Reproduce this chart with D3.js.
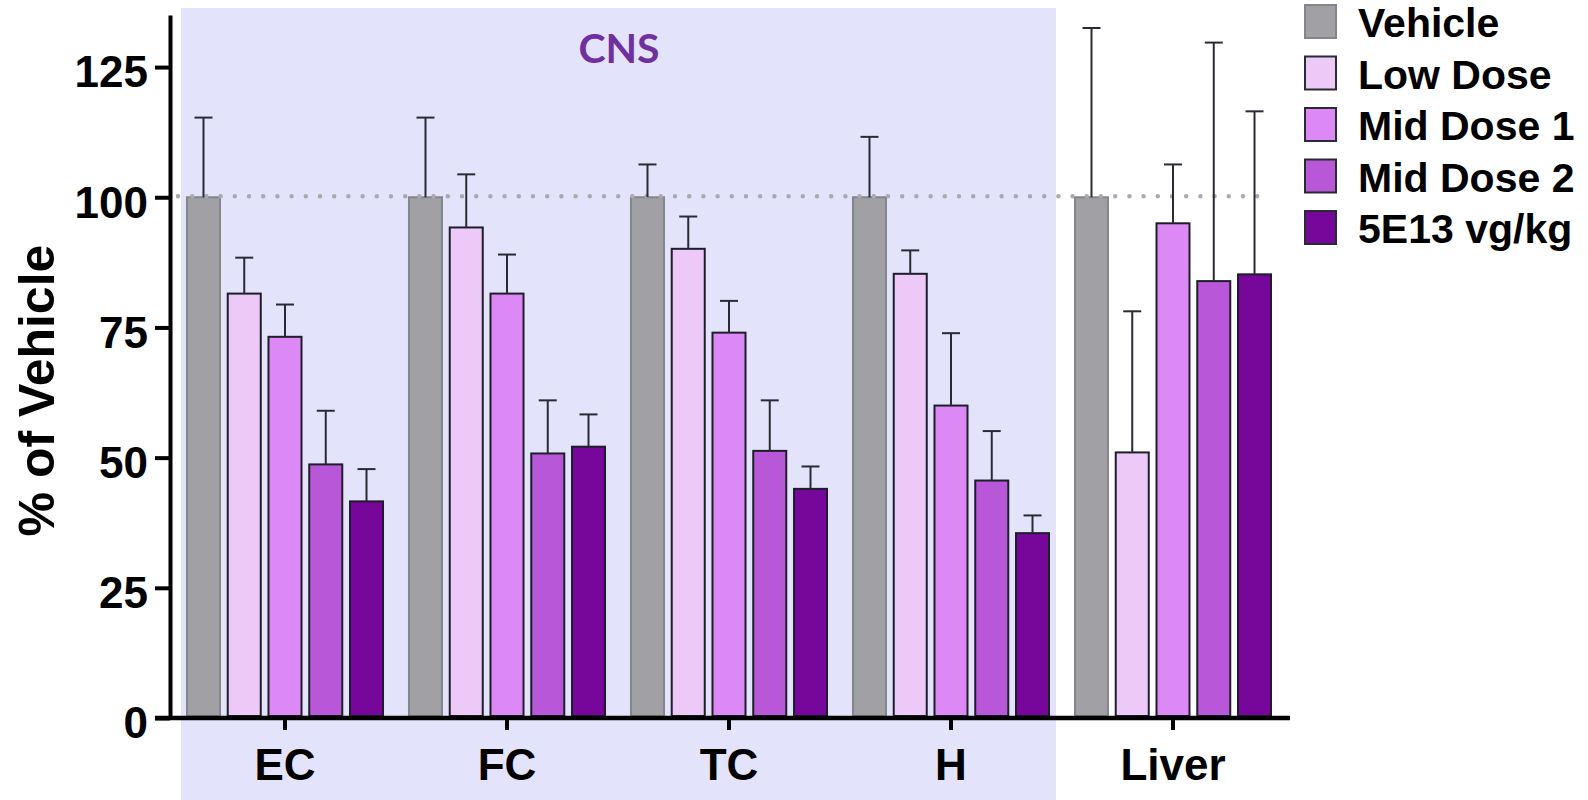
<!DOCTYPE html>
<head>
   <meta charset="utf-8">
   <script src="https://d3js.org/d3.v7.min.js"></script>
   <style>
   body{ margin: 0; background: #ffffff; }
   text{
      font-family: "Liberation Sans", Arial, sans-serif;
      font-weight: 700;
      fill: #000000;
   }
   text.cns{
      font-family: Lato, "Open Sans", sans-serif;
      font-size: 41px;
      fill: #7030a0;
   }
   .axis path, .axis line{
      stroke: #000000;
      stroke-width: 4;
   }
   .axis text{ font-size: 44px; }
   </style>
</head>

<body>
   <script>
const width  = 1588;
const height = 800;

// data
const groups  = ["EC", "FC", "TC", "H", "Liver"];
const series  = ["Vehicle", "Low Dose", "Mid Dose 1", "Mid Dose 2", "5E13 vg/kg"];
const colours = ["#a1a1a5", "#ecc9f7", "#dc89f5", "#b857d8", "#77069b"];
const strokes = ["#85858a", "#1e1e2a", "#1e1e2a", "#1e1e2a", "#1e1e2a"];

// mean % of vehicle, one array per series, in the order of groups
const vehicle  = [100, 100, 100, 100, 100];
const lowDose  = [81.5, 94.2, 90.1, 85.3, 51.0];
const midDose1 = [73.2, 81.5, 74.0, 60.0, 95.0];
const midDose2 = [48.7, 50.8, 51.3, 45.6, 83.9];
const highDose = [41.6, 52.1, 44.0, 35.5, 85.2];

// top of the error bar (mean + SD)
const vehicleErr  = [115.3, 115.3, 106.3, 111.6, 132.5];
const lowDoseErr  = [88.4, 104.4, 96.3, 89.8, 78.1];
const midDose1Err = [79.4, 89.0, 80.1, 73.9, 106.3];
const midDose2Err = [59.0, 61.0, 61.0, 55.1, 129.7];
const highDoseErr = [47.8, 58.3, 48.3, 38.9, 116.5];

const yTicks = [0, 25, 50, 75, 100, 125];
const yMax = 135;
const refLine = 100;
const cnsGroups = ["EC", "FC", "TC", "H"];

const means = [vehicle, lowDose, midDose1, midDose2, highDose];
const errs  = [vehicleErr, lowDoseErr, midDose1Err, midDose2Err, highDoseErr];

const rows = [];
groups.forEach((g, gi) => {
   series.forEach((s, si) => {
      rows.push({group: g, series: s, si: si, value: means[si][gi], err: errs[si][gi]});
   });
});

const margin = {top: 15, right: 304, bottom: 82, left: 170};

let svg = d3.select("body").append("svg")
   .attr("width", width)
   .attr("height", height);

const y = d3.scaleLinear()
   .domain([0, yMax])
   .range([height - margin.bottom, margin.top]);

const x = d3.scaleBand()
   .domain(groups)
   .range([174, 1284])
   .paddingInner(0.117)
   .paddingOuter(0.0585);

const xInner = d3.scaleBand()
   .domain(series)
   .range([0, x.bandwidth()])
   .paddingInner(0.19);

// CNS shaded block
const cnsLeft  = x(cnsGroups[0]) - 6;
const cnsRight = x(cnsGroups[cnsGroups.length - 1]) + x.bandwidth() + 7;
svg.append("rect")
   .attr("x", cnsLeft)
   .attr("y", 8)
   .attr("width", cnsRight - cnsLeft)
   .attr("height", height - 8)
   .style("fill", "#e3e3fb");

svg.append("text")
   .attr("class", "cns")
   .attr("x", (x("EC") + x("H") + x.bandwidth()) / 2 + 1)
   .attr("y", 63)
   .style("text-anchor", "middle")
   .text("CNS");

// bars
svg.append("g")
   .selectAll("rect")
   .data(rows)
   .enter()
   .append("rect")
   .attr("x", d => x(d.group) + xInner(d.series))
   .attr("y", d => y(d.value))
   .attr("width", xInner.bandwidth())
   .attr("height", d => y(0) - y(d.value) - 2)
   .style("fill", d => colours[d.si])
   .style("stroke", d => strokes[d.si])
   .style("stroke-width", 2);

// dotted reference line at 100%
svg.append("line")
   .attr("x1", x("EC") - 9)
   .attr("x2", x("Liver") + xInner("5E13 vg/kg") + xInner.bandwidth() / 2 + 5)
   .attr("y1", y(refLine) - 1)
   .attr("y2", y(refLine) - 1)
   .style("stroke", "#a9a9b1")
   .style("stroke-width", 4.5)
   .style("stroke-linecap", "round")
   .style("stroke-dasharray", "0 14.2");

// error bars, upper half only
const errG = svg.append("g")
   .style("stroke", "#2a2a35")
   .style("stroke-width", 2);

errG.selectAll("line.stem")
   .data(rows)
   .enter()
   .append("line")
   .attr("class", "stem")
   .attr("x1", d => x(d.group) + xInner(d.series) + xInner.bandwidth() / 2)
   .attr("x2", d => x(d.group) + xInner(d.series) + xInner.bandwidth() / 2)
   .attr("y1", d => y(d.value))
   .attr("y2", d => y(d.err));

errG.selectAll("line.cap")
   .data(rows)
   .enter()
   .append("line")
   .attr("class", "cap")
   .attr("x1", d => x(d.group) + xInner(d.series) + xInner.bandwidth() / 2 - 9)
   .attr("x2", d => x(d.group) + xInner(d.series) + xInner.bandwidth() / 2 + 9)
   .attr("y1", d => y(d.err))
   .attr("y2", d => y(d.err));

// axes
const yAxis = d3.axisLeft(y)
   .tickValues(yTicks)
   .tickSize(15)
   .tickSizeOuter(0)
   .tickPadding(7);

svg.append("g")
   .attr("class", "axis yAxis")
   .attr("transform", `translate(${margin.left}, 0)`)
   .call(yAxis)
   .selectAll("text")
   .attr("dy", "0.45em");

const xAxis = d3.axisBottom(x)
   .tickSize(12)
   .tickSizeOuter(0)
   .tickPadding(19);

const xg = svg.append("g")
   .attr("class", "axis xAxis")
   .attr("transform", `translate(0, ${y(0)})`)
   .call(xAxis);
xg.select("path.domain").remove();

svg.append("line")
   .attr("x1", margin.left - 15)
   .attr("x2", x.range()[1] + 6)
   .attr("y1", y(0))
   .attr("y2", y(0))
   .style("stroke", "#000")
   .style("stroke-width", 4.5);

svg.append("text")
   .attr("transform", `translate(54, ${(y(0) + y(yMax)) / 2 + 24}) rotate(-90)`)
   .style("text-anchor", "middle")
   .style("font-size", "50px")
   .text("% of Vehicle");

// legend
const legend = svg.append("g")
   .attr("transform", "translate(1304, 4)");

const item = legend.selectAll("g")
   .data(series)
   .enter()
   .append("g")
   .attr("transform", (d, i) => `translate(0, ${i * 51.5})`);

item.append("rect")
   .attr("x", 1)
   .attr("y", 1)
   .attr("width", 31)
   .attr("height", 33)
   .style("fill", (d, i) => colours[i])
   .style("stroke", (d, i) => i == 0 ? "#85858a" : "#2a2a35")
   .style("stroke-width", 2);

item.append("text")
   .attr("x", 54)
   .attr("y", 33)
   .style("font-size", "41px")
   .text(d => d);

   </script>
</body>
